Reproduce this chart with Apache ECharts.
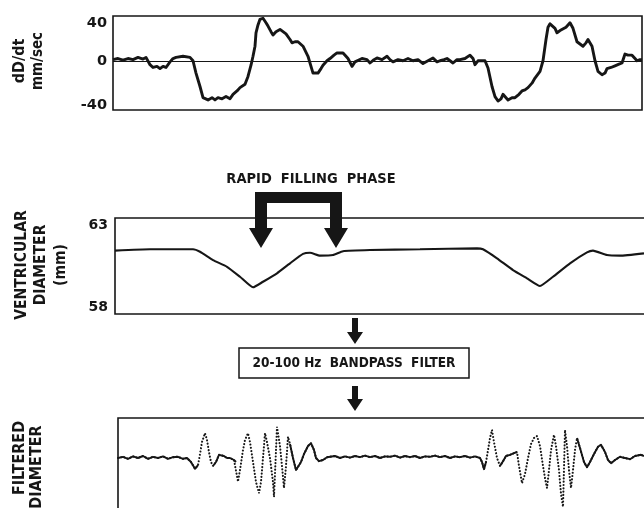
<!DOCTYPE html>
<html><head><meta charset="utf-8">
<script src="https://cdn.jsdelivr.net/npm/echarts@6/dist/echarts.min.js"></script>
<style>html,body{margin:0;padding:0;background:#fff}#c{width:644px;height:508px}</style>
</head><body><div id="c"></div><script>
// time in ms, value pairs
const rateData = [[0,1],[10,2],[20,0.5],[30,2],[40,1],[50,3],[60,1.5],[66,3],[74,-3.5],[80,-6],[88,-5],[94,-7],[100,-5],[106,-6],[114,-1],[120,2],[126,3],[140,4],[154,3],[160,0],[166,-11],[174,-23],[180,-33],[190,-35],[198,-33],[204,-35],[210,-33],[218,-34],[226,-32],[234,-34],[240,-30],[248,-27],[254,-24],[264,-21],[270,-14],[276,-4],[280,4],[284,13],[286,25],[290,32],[294,37],[300,38],[306,34],[310,31],[316,26],[320,23],[326,26],[334,28],[340,26],[346,24],[354,19],[358,16],[364,17],[370,17],[380,13],[390,4],[396,-5],[400,-11],[410,-11],[416,-7],[420,-4],[428,0],[434,2],[442,5],[448,7],[460,7],[466,4],[470,2],[478,-5],[484,-1],[488,0],[498,2],[508,1],[514,-2],[522,1],[528,2.5],[538,1],[548,4],[554,1],[560,-1],[570,1],[580,0],[590,2],[600,0],[610,1],[620,-2.5],[630,0],[640,2.5],[648,-1],[654,0],[662,1],[668,2],[674,0],[680,-2],[688,1],[694,1],[704,2],[714,5],[720,2],[724,-3.5],[730,0],[734,1],[744,0],[750,-6.5],[758,-23],[764,-32],[770,-36],[776,-34],[780,-30],[786,-33],[790,-35],[798,-33],[804,-33],[812,-30],[818,-27],[824,-26],[830,-24],[838,-20],[844,-15.5],[854,-9.5],[860,0],[866,19],[870,30],[874,33],[878,34],[884,29],[888,25],[894,27],[898,28],[906,30],[914,34],[920,29],[928,17],[934,15],[940,13],[946,16],[950,19],[958,13],[964,0],[970,-9.5],[978,-12.5],[984,-11],[988,-7],[996,-6],[1004,-4.5],[1012,-3],[1018,-2],[1024,6],[1030,5],[1038,5],[1044,2],[1048,0],[1054,1],[1058,1]];
const rateTicks = [-40, 0, 40];

const diamData = [[4,61.30],[74,61.37],[160,61.37],[174,61.24],[200,60.81],[228,60.46],[254,59.94],[280,59.39],[300,59.68],[328,60.12],[354,60.64],[380,61.13],[394,61.19],[414,61.04],[440,61.07],[460,61.27],[514,61.33],[614,61.37],[728,61.42],[740,61.37],[768,60.90],[800,60.29],[828,59.86],[854,59.46],[880,59.94],[914,60.64],[948,61.21],[960,61.30],[988,61.07],[1014,61.04],[1062,61.16]];
const diamTicks = [58, 63];

const filtData = [[10,0],[20,0.03],[30,-0.02],[40,0.04],[50,0],[60,0.05],[70,-0.02],[80,0.03],[90,0],[100,0.04],[110,-0.02],[120,0.02],[130,0.03],[140,-0.02],[148,0],[156,-0.1],[164,-0.27],[170,-0.18],
[174,0.1],[178,0.4],[184,0.62],[188,0.45],[192,0.15],[196,-0.1],
[200,-0.2],[206,-0.1],[212,0.08],[216,0.13],[222,0.05],[228,0],[234,0],[242,-0.05],[246,-0.1],
[250,-0.59],[254,-0.3],[260,0.2],[264,0.45],[270,0.62],[274,0.4],[280,-0.1],[286,-0.6],[292,-0.88],[296,-0.6],[300,0],[304,0.62],[308,0.4],[314,0],[320,-0.6],[322,-0.97],[328,0.78],[334,0.3],[338,-0.2],[342,-0.75],[346,-0.2],[350,0.53],[354,0.35],
[360,0],[366,-0.3],[370,-0.35],[376,-0.1],[382,0.1],[390,0.3],[396,0.37],[402,0.2],[406,0],[412,-0.08],[420,-0.05],[428,0.02],
[444,0.05],[454,0],[464,0.04],[474,0.01],[484,0.05],[494,0.02],[504,0.06],[514,0.02],[524,0.05],[534,0],[544,0.04],[554,0.03],[564,0.06],[574,0.01],[584,0.05],[594,0.02],[604,0.05],[614,0],[624,0.04],[634,0.03],[644,0.06],[654,0.02],[664,0.05],[674,0],[684,0.04],[694,0.02],[704,0.05],[714,0.01],[724,0.04],[734,0],
[738,-0.1],[742,-0.28],[746,-0.1],
[750,0.2],[754,0.5],[758,0.7],[762,0.4],[768,0],[774,-0.2],
[780,-0.08],[786,0.05],[794,0.08],[802,0.12],[808,0.15],
[812,-0.2],[818,-0.63],[824,-0.4],[830,0],[836,0.35],[842,0.5],[848,0.55],[854,0.3],[860,-0.2],[864,-0.5],[868,-0.75],[872,-0.3],[876,0.2],[882,0.58],[886,0.3],[892,-0.3],[896,-0.9],[900,-1.22],[904,0.7],[908,0.3],[912,-0.3],[916,-0.75],[920,-0.3],[924,0.2],[928,0.5],
[934,0.25],[942,-0.1],[948,-0.23],[954,-0.1],[962,0.1],[970,0.28],[976,0.33],[984,0.15],[990,-0.05],[996,-0.13],[1004,-0.05],[1014,0.03],[1024,0],[1034,-0.03],[1044,0.05],[1056,0.08],[1062,0.05]];
// time spans where the fast trace is drawn as dots
const fastSpans = [[170,200],[246,354],[746,774],[808,928]];

const ink = '#161616';
const FONT = "'DejaVu Sans Condensed','DejaVu Sans',sans-serif";
const TICKFONT = "'DejaVu Sans','Liberation Sans',sans-serif";

const inFast = t => fastSpans.some(s => t > s[0] && t < s[1]);
const filtSolid = filtData.map(p => inFast(p[0]) ? [p[0], null] : p);

const chart = echarts.init(document.getElementById('c'), null, {renderer: 'canvas'});

function txt(x, y, text, size, rot, extra) {
  return {
    type: 'text', x: x, y: y, rotation: rot || 0, silent: true,
    style: Object.assign({text: text, fill: ink, fontFamily: FONT, fontWeight: 'bold', fontSize: size,
      align: 'center', verticalAlign: 'middle'}, extra || {})
  };
}

const gridBase = {show: true, borderColor: ink, borderWidth: 1.6, backgroundColor: 'transparent', outerBoundsMode: 'none', containLabel: false};

const option = {
  animation: false,
  backgroundColor: '#fff',
  grid: [
    Object.assign({left: 113, top: 16, width: 529, height: 94}, gridBase),
    Object.assign({left: 115, top: 218, width: 533, height: 96}, gridBase),
    Object.assign({left: 118, top: 418, width: 530, height: 140}, gridBase)
  ],
  xAxis: [
    {type: 'value', gridIndex: 0, min: 0, max: 1058, show: false},
    {type: 'value', gridIndex: 1, min: 4, max: 1070, show: false},
    {type: 'value', gridIndex: 2, min: 10, max: 1070, show: false}
  ],
  yAxis: [
    {type: 'value', gridIndex: 0, min: -44, max: 40, splitLine: {show: false}, axisLine: {show: false}, axisTick: {show: false},
     axisLabel: {customValues: rateTicks, margin: 6, color: ink, fontFamily: TICKFONT, fontWeight: 'bold', fontSize: 14.5,
       verticalAlignMaxLabel: 'top'}},
    {type: 'value', gridIndex: 1, min: 58, max: 63, splitLine: {show: false}, axisLine: {show: false}, axisTick: {show: false},
     axisLabel: {customValues: diamTicks, margin: 7, color: ink, fontFamily: TICKFONT, fontWeight: 'bold', fontSize: 14,
       verticalAlignMaxLabel: 'top', verticalAlignMinLabel: 'bottom'}},
    {type: 'value', gridIndex: 2, min: -2.5, max: 1, show: false}
  ],
  series: [
    {type: 'line', xAxisIndex: 0, yAxisIndex: 0, data: rateData, showSymbol: false, lineStyle: {color: ink, width: 2.9, join: 'round'},
     markLine: {silent: true, symbol: 'none', label: {show: false}, lineStyle: {color: ink, width: 1.2, type: 'solid'}, data: [{yAxis: 0}]}},
    {type: 'line', xAxisIndex: 1, yAxisIndex: 1, data: diamData, showSymbol: false, smooth: 0.15, lineStyle: {color: ink, width: 2.1}},
    {type: 'line', xAxisIndex: 2, yAxisIndex: 2, data: filtData, showSymbol: false, lineStyle: {color: ink, width: 2.1, type: [0.1, 3.2], cap: 'round'}},
    {type: 'line', xAxisIndex: 2, yAxisIndex: 2, data: filtSolid, showSymbol: false, connectNulls: false, lineStyle: {color: ink, width: 1.9, join: 'round'}}
  ],
  graphic: [
    txt(20, 61, 'dD/dt', 16, Math.PI / 2),
    txt(38, 61, 'mm/sec', 15, Math.PI / 2),
    txt(41, 265, 'VENTRICULAR\nDIAMETER\n(mm)', 15.5, Math.PI / 2, {lineHeight: 19.5}),
    txt(20, 458, 'FILTERED', 16, Math.PI / 2),
    txt(37, 467, 'DIAMETER', 16, Math.PI / 2),
    txt(311, 179, 'RAPID  FILLING  PHASE', 14.5, 0),
    {type: 'polygon', silent: true, shape: {points: [[255,192],[342,192],[342,228],[348,228],[336,248],[324,228],[330,228],[330,203],[267,203],[267,228],[273,228],[261,248],[249,228],[255,228]]},
     style: {fill: ink}},
    {type: 'polygon', silent: true, shape: {points: [[352,318],[358,318],[358,332],[363,332],[355,344],[347,332],[352,332]]}, style: {fill: ink}},
    {type: 'rect', silent: true, shape: {x: 239, y: 348, width: 230, height: 30}, style: {fill: 'none', stroke: ink, lineWidth: 1.5}},
    txt(354, 363.5, '20-100 Hz  BANDPASS  FILTER', 13.5, 0),
    {type: 'polygon', silent: true, shape: {points: [[352,386],[358,386],[358,399],[363,399],[355,411],[347,399],[352,399]]}, style: {fill: ink}}
  ]
};
chart.setOption(option);
</script></body></html>
